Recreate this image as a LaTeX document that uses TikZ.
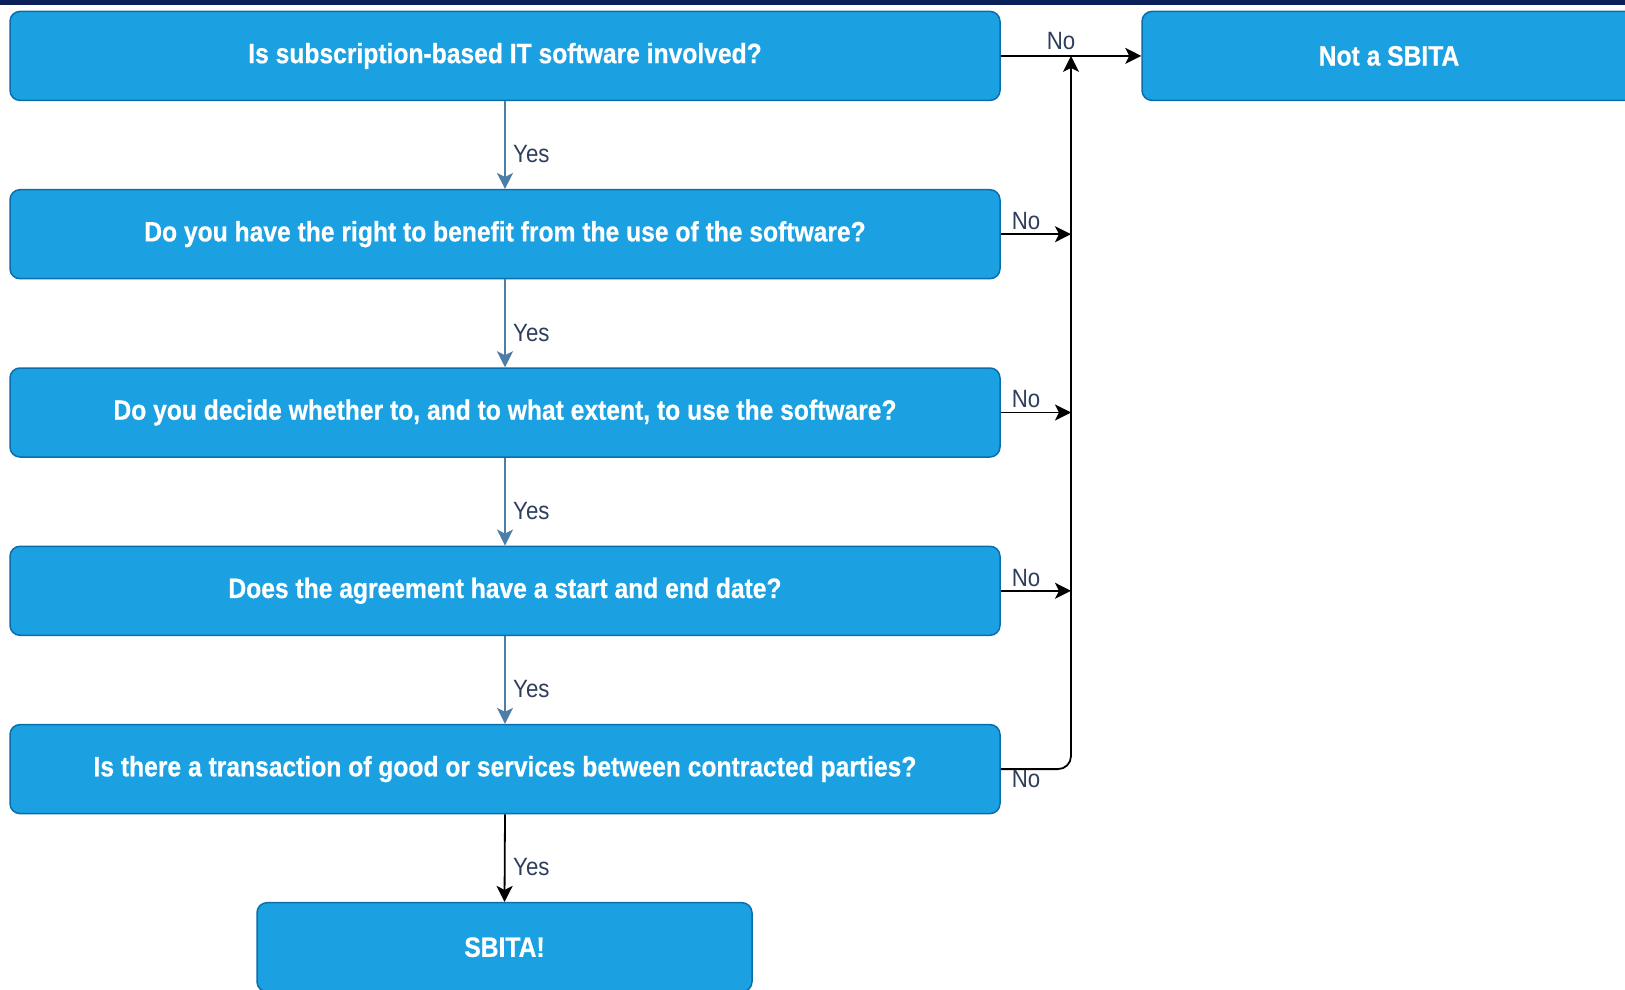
\documentclass[tikz,border=0pt]{standalone}
\usepackage{fontspec}
\setmainfont{Liberation Sans}
\newfontfamily\boxfont[FakeStretch=0.88,BoldFeatures={FakeBold=0.6}]{Liberation Sans}
\newfontfamily\lblfont[FakeStretch=0.89]{Liberation Sans}
\usetikzlibrary{arrows.meta}
\definecolor{boxfill}{HTML}{1BA1E2}
\definecolor{boxline}{HTML}{0A6EAA}
\definecolor{yescol}{HTML}{4D7EA8}
\definecolor{lblcol}{HTML}{2F3E5C}
\definecolor{navy}{HTML}{0B1F5B}
\tikzset{
  qbox/.style={draw=boxline, line width=1.5pt, fill=boxfill, rounded corners=10pt,
    minimum width=990pt, minimum height=89pt, inner sep=0pt,
    text=white, font=\boxfont\bfseries\fontsize{28}{32}\selectfont},
  yesarrow/.style={draw=yescol, line width=1.8pt, -{Stealth[length=16pt,width=16pt,inset=4pt]}},
  noarrow/.style={draw=black, line width=1.8pt, -{Stealth[length=16pt,width=16pt,inset=4pt]}},
  lbl/.style={text=lblcol, inner sep=0pt, font=\lblfont\fontsize{25}{29}\selectfont}
}
\begin{document}
\begin{tikzpicture}[x=1pt,y=-1pt]
\useasboundingbox (0,0) rectangle (1625,990);
\clip (0,0) rectangle (1625,990);
\fill[white] (0,0) rectangle (1625,990);
\fill[navy] (0,0) rectangle (1625,5);
\node[qbox] (b1) at (505,55.9) {Is subscription-based IT software involved?};
\node[qbox] (b2) at (505,234.2) {Do you have the right to benefit from the use of the software?};
\node[qbox] (b3) at (505,412.5) {Do you decide whether to, and to what extent, to use the software?};
\node[qbox] (b4) at (505,590.8) {Does the agreement have a start and end date?};
\node[qbox] (b5) at (505,769.1) {Is there a transaction of good or services between contracted parties?};
\node[qbox, minimum width=494pt] (ns) at (1389,55.9) {Not a SBITA};
\node[qbox, minimum width=495pt] (sb) at (504.5,947.2) {SBITA!};
\coordinate (j) at (1071,55.9);
% Yes arrows
\draw[yesarrow] (b1.south) -- (b2.north);
\draw[yesarrow] (b2.south) -- (b3.north);
\draw[yesarrow] (b3.south) -- (b4.north);
\draw[yesarrow] (b4.south) -- (b5.north);
\draw[noarrow] (b5.south) -- (sb.north);
\node[lbl, anchor=west] (y1) at (513,154.4) {Yes};
\node[lbl, anchor=west] (y2) at (513,332.7) {Yes};
\node[lbl, anchor=west] (y3) at (513,511) {Yes};
\node[lbl, anchor=west] (y4) at (513,689.2) {Yes};
\node[lbl, anchor=west] (y5) at (513,867.5) {Yes};
% No arrows
\draw[noarrow] (b1.east) -- (ns.west);
\draw[noarrow] (b2.east) -- (b2.east -| j);
\draw[noarrow] (b3.east) -- (b3.east -| j);
\draw[noarrow] (b4.east) -- (b4.east -| j);
\draw[noarrow, rounded corners=13pt] (b5.east) -| (j);
\node[lbl] (n1) at (1061,41.5) {No};
\node[lbl] (n2) at (1026,221) {No};
\node[lbl] (n3) at (1026,399.5) {No};
\node[lbl] (n4) at (1026,577.7) {No};
\node[lbl] (n5) at (1026,779) {No};
\end{tikzpicture}
\end{document}
